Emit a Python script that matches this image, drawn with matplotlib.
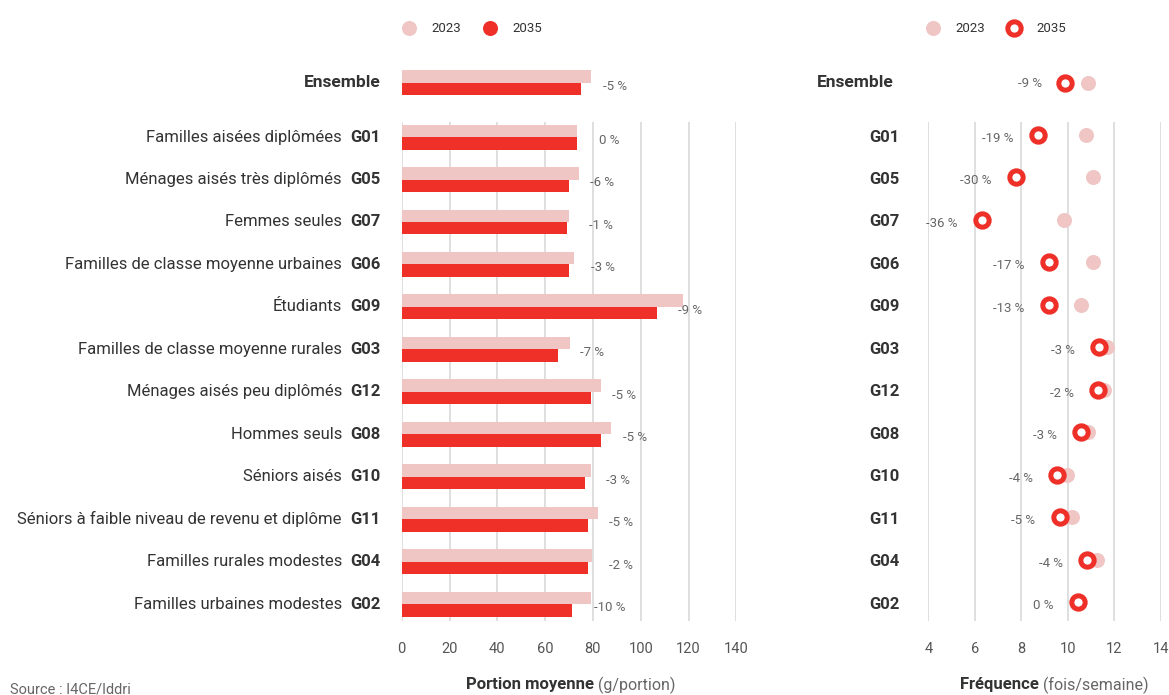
import numpy as np
import matplotlib
matplotlib.use('Agg')
import matplotlib.pyplot as plt
from matplotlib.lines import Line2D

plt.rcParams['font.family'] = ['Roboto', 'DejaVu Sans']

# données
codes = ['G01', 'G05', 'G07', 'G06', 'G09', 'G03', 'G12', 'G08', 'G10', 'G11', 'G04', 'G02']
noms = ['Familles aisées diplômées', 'Ménages aisés très diplômés', 'Femmes seules',
        'Familles de classe moyenne urbaines', 'Étudiants',
        'Familles de classe moyenne rurales', 'Ménages aisés peu diplômés',
        'Hommes seuls', 'Séniors aisés', 'Séniors à faible niveau de revenu et diplôme',
        'Familles rurales modestes', 'Familles urbaines modestes']
portion_2023 = [73.5, 74.3, 70.0, 72.1, 117.7, 70.4, 83.4, 87.6, 79.2, 82.1, 79.6, 79.2]
portion_2035 = [73.5, 69.9, 69.2, 70.0, 106.8, 65.5, 79.2, 83.4, 76.6, 77.8, 77.8, 71.3]
portion_var = ['0 %', '-6 %', '-1 %', '-3 %', '-9 %', '-7 %', '-5 %', '-5 %', '-3 %', '-5 %', '-2 %', '-10 %']
freq_2023 = [10.76, 11.07, 9.84, 11.07, 10.55, 11.67, 11.55, 10.88, 9.95, 10.16, 11.25, 10.45]
freq_2035 = [8.73, 7.75, 6.31, 9.17, 9.17, 11.35, 11.30, 10.56, 9.55, 9.65, 10.82, 10.45]
freq_var = ['-19 %', '-30 %', '-36 %', '-17 %', '-13 %', '-3 %', '-2 %', '-3 %', '-4 %', '-5 %', '-4 %', '0 %']
ens_portion = [79.2, 75.2]
ens_portion_var = '-5 %'
ens_freq = [10.88, 9.88]
ens_freq_var = '-9 %'

ROSE = '#efc6c4'
ROUGE = '#ee3029'
GRIS = '#dcdcdc'
TXT = '#333333'
TXT2 = '#666666'

W, H = 1169, 695
fig = plt.figure(figsize=(W / 100, H / 100), dpi=100)

def px_axes(x0, x1, y0, y1):
    # axes placé en pixels (y depuis le haut)
    return fig.add_axes([x0 / W, 1 - y1 / H, (x1 - x0) / W, (y1 - y0) / H])

y = np.arange(len(codes))
y_ens = -1.28
ylim = (11.39, -1.93)
h = 0.294
FS = 12
ring = dict(ms=9.6, mfc='white', mec=ROUGE, mew=3.6)

# ---- portions (barres)
ax1 = px_axes(401.7, 736.3, 55, 621)
ax1.set_xlim(0, 140)
ax1.set_ylim(*ylim)
ax1.vlines(np.arange(0, 141, 20), ylim[0], -0.36, color=GRIS, lw=1.3, zorder=0)
ax1.barh(y - h / 2, portion_2023, height=h, color=ROSE, zorder=2)
ax1.barh(y + h / 2, portion_2035, height=h, color=ROUGE, zorder=2)
ax1.barh([y_ens - h / 2], [ens_portion[0]], height=h, color=ROSE, zorder=2)
ax1.barh([y_ens + h / 2], [ens_portion[1]], height=h, color=ROUGE, zorder=2)
for yi, v, t in zip(y, portion_2035, portion_var):
    ax1.text(v + 9, yi + 0.08, t, ha='left', va='center', fontsize=9.5, color=TXT2)
ax1.text(ens_portion[1] + 9, y_ens + 0.08, ens_portion_var, ha='left', va='center', fontsize=9.5, color=TXT2)
for yi, c, n in zip(y, codes, noms):
    ax1.text(-8.7, yi, c, ha='right', va='center', fontsize=FS, fontweight='bold', color=TXT)
    ax1.text(-25, yi, n, ha='right', va='center', fontsize=FS, color=TXT)
ax1.text(-8.7, y_ens, 'Ensemble', ha='right', va='center', fontsize=12.5, fontweight='bold', color=TXT)

# ---- fréquence (points)
ax2 = px_axes(928.3, 1161, 55, 621)
ax2.set_xlim(4, 14)
ax2.set_ylim(*ylim)
ax2.vlines(np.arange(4, 15, 2), ylim[0], -0.36, color=GRIS, lw=1.3, zorder=0)
ax2.plot(freq_2023, y - 0.05, 'o', ms=10.8, color=ROSE, mew=0, zorder=2)
ax2.plot(freq_2035, y - 0.05, 'o', zorder=3, **ring)
ax2.plot([ens_freq[0]], [y_ens], 'o', ms=10.8, color=ROSE, mew=0, zorder=2)
ax2.plot([ens_freq[1]], [y_ens], 'o', zorder=3, **ring)
for yi, v, t in zip(y, freq_2035, freq_var):
    ax2.text(v - 1.05, yi + 0.03, t, ha='right', va='center', fontsize=9.5, color=TXT2)
ax2.text(ens_freq[1] - 1.0, y_ens + 0.03, ens_freq_var, ha='right', va='center', fontsize=9.5, color=TXT2)
for yi, c in zip(y, codes):
    ax2.text(2.78, yi, c, ha='right', va='center', fontsize=FS, fontweight='bold', color=TXT)
ax2.text(2.52, y_ens, 'Ensemble', ha='right', va='center', fontsize=12.5, fontweight='bold', color=TXT)

for ax, ticks in ((ax1, np.arange(0, 141, 20)), (ax2, np.arange(4, 15, 2))):
    ax.set_xticks(ticks)
    ax.set_yticks([])
    ax.tick_params(axis='x', length=0, pad=15, labelsize=10.5, labelcolor='#555555')
    for s in ax.spines.values():
        s.set_visible(False)
    ax.patch.set_alpha(0)

# légendes
h1 = [Line2D([], [], ls='', marker='o', ms=10.8, color=ROSE, mew=0),
      Line2D([], [], ls='', marker='o', ms=10.8, color=ROUGE, mew=0)]
h2 = [Line2D([], [], ls='', marker='o', ms=10.8, color=ROSE, mew=0),
      Line2D([], [], ls='', marker='o', **ring)]
for ax, hd, x0 in ((ax1, h1, 402), (ax2, h2, 926)):
    ax.legend(hd, ['2023', '2035'], ncol=2, frameon=False, loc='center left',
              bbox_to_anchor=(x0 / W, 1 - 29 / H), bbox_transform=fig.transFigure,
              handlelength=1.0, handletextpad=1.2, columnspacing=1.7, borderpad=0,
              borderaxespad=0, prop={'size': 9.5}, labelcolor=TXT)

# titres d'axes
yl = 1 - 685 / H
fig.text(594 / W, yl, 'Portion moyenne', ha='right', va='center', fontsize=12, fontweight='bold', color=TXT)
fig.text(598 / W, yl, '(g/portion)', ha='left', va='center', fontsize=11.5, color=TXT2)
fig.text(1039 / W, yl, 'Fréquence', ha='right', va='center', fontsize=12, fontweight='bold', color=TXT)
fig.text(1043 / W, yl, '(fois/semaine)', ha='left', va='center', fontsize=11.5, color=TXT2)
fig.text(10 / W, 1 - 683 / H, 'Source : I4CE/Iddri', ha='left', va='top', fontsize=10.5, color=TXT2)

fig.savefig('out.png', dpi=100)
